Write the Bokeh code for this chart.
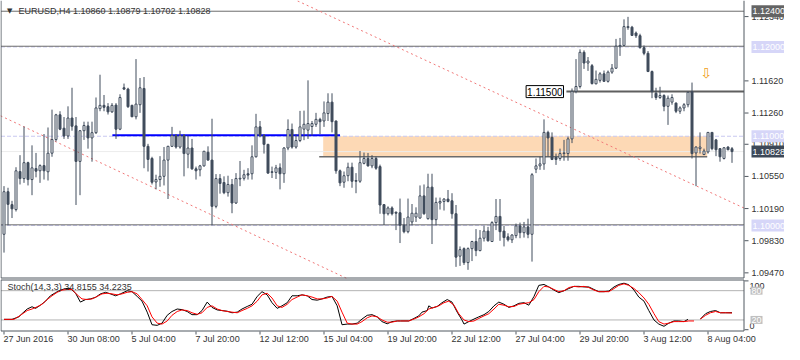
import math
from bokeh.plotting import figure
from bokeh.models import Range1d, Label, ColumnDataSource
from bokeh.core.properties import value
from bokeh.embed import file_html
from bokeh.resources import INLINE

# ---------------- data (EURUSD H4 candles) ----------------
opens = [1.09902, 1.10379, 1.10234, 1.10179, 1.10605, 1.10526, 1.10704, 1.10515, 1.10638, 1.10613,
         1.10671, 1.10602, 1.10810, 1.10963, 1.11240, 1.11090, 1.11003, 1.11204, 1.11116, 1.10718,
         1.11062, 1.11116, 1.10981, 1.11040, 1.11309, 1.11346, 1.11331, 1.11273, 1.11349, 1.11079,
         1.11543, 1.11528, 1.11346, 1.11218, 1.11353, 1.11535, 1.10887, 1.10751, 1.10488, 1.10515,
         1.10551, 1.10733, 1.10887, 1.11007, 1.10879, 1.11007, 1.10799, 1.10868, 1.10635, 1.10624,
         1.10668, 1.10821, 1.10733, 1.10215, 1.10526, 1.10482, 1.10368, 1.10460, 1.10252, 1.10521,
         1.10529, 1.10580, 1.10580, 1.10770, 1.11105, 1.11007, 1.10909, 1.10602, 1.10595, 1.10646,
         1.10580, 1.10868, 1.11076, 1.10879, 1.10952, 1.11079, 1.11068, 1.11109, 1.11134, 1.11189,
         1.11171, 1.11254, 1.11382, 1.11171, 1.10613, 1.10485, 1.10558, 1.10653, 1.10504, 1.10496,
         1.10696, 1.10751, 1.10668, 1.10751, 1.10660, 1.10234, 1.10132, 1.10197, 1.10149, 1.10143,
         1.10004, 1.09931, 1.10040, 1.10095, 1.10084, 1.10332, 1.10077, 1.10430, 1.10066, 1.10252,
         1.10270, 1.10296, 1.10277, 1.10132, 1.09657, 1.09741, 1.09585, 1.09741, 1.09821, 1.09719,
         1.09858, 1.09938, 1.09821, 1.10033, 1.10102, 1.09938, 1.09873, 1.09840, 1.09887, 1.09996,
         1.09920, 1.09985, 1.09902, 1.10631, 1.10668, 1.10690, 1.11043, 1.10988, 1.10762, 1.10751,
         1.10806, 1.10806, 1.10970, 1.11503, 1.11557, 1.11940, 1.11820, 1.11790, 1.11587, 1.11626,
         1.11699, 1.11615, 1.11718, 1.11762, 1.12003, 1.12017, 1.12217, 1.12221, 1.12156, 1.12126,
         1.11992, 1.11929, 1.11725, 1.11481, 1.11434, 1.11456, 1.11335, 1.11382, 1.11371, 1.11280,
         1.11317, 1.11353, 1.11499, 1.10813, 1.10861, 1.10795, 1.10824, 1.11043, 1.10959, 1.10861,
         1.10751, 1.10879, 1.10860]
highs = [1.10441, 1.10423, 1.10277, 1.10653, 1.10788, 1.11109, 1.10715, 1.10898, 1.10813, 1.10685,
         1.11025, 1.11098, 1.11298, 1.11251, 1.11280, 1.11215, 1.11335, 1.11543, 1.11215, 1.11068,
         1.11163, 1.11163, 1.11163, 1.11434, 1.11689, 1.11462, 1.11371, 1.11371, 1.11371, 1.11470,
         1.11590, 1.11543, 1.11353, 1.11864, 1.11652, 1.11663, 1.10915, 1.10770, 1.10569, 1.10777,
         1.10879, 1.10893, 1.11105, 1.11025, 1.11062, 1.11025, 1.11007, 1.10970, 1.10660, 1.10679,
         1.10835, 1.10887, 1.11196, 1.10576, 1.10576, 1.10551, 1.10558, 1.10521, 1.10587, 1.10723,
         1.10624, 1.10642, 1.10898, 1.11251, 1.11171, 1.11025, 1.10915, 1.10660, 1.10679, 1.10696,
         1.10879, 1.11189, 1.11142, 1.11025, 1.11284, 1.11287, 1.11626, 1.11171, 1.11262, 1.11207,
         1.11390, 1.11481, 1.11481, 1.11174, 1.10627, 1.10605, 1.10704, 1.10704, 1.10587, 1.10835,
         1.10817, 1.10813, 1.10788, 1.10770, 1.10682, 1.10241, 1.10215, 1.10215, 1.10157, 1.10302,
         1.10084, 1.10302, 1.10241, 1.10204, 1.10449, 1.10460, 1.10580, 1.10580, 1.10313, 1.10313,
         1.10307, 1.10398, 1.10362, 1.10230, 1.09766, 1.09755, 1.09755, 1.09829, 1.09960, 1.09949,
         1.09996, 1.09985, 1.10048, 1.10297, 1.10297, 1.09996, 1.09913, 1.09902, 1.10022, 1.10033,
         1.10040, 1.10077, 1.10587, 1.10751, 1.10770, 1.11189, 1.11062, 1.11043, 1.10806, 1.10861,
         1.10959, 1.10996, 1.11535, 1.11864, 1.11973, 1.11962, 1.11887, 1.11809, 1.11736, 1.11718,
         1.11736, 1.11736, 1.11809, 1.12090, 1.12101, 1.12309, 1.12337, 1.12236, 1.12173, 1.12148,
         1.12017, 1.11954, 1.11736, 1.11543, 1.11554, 1.11470, 1.11456, 1.11470, 1.11379, 1.11335,
         1.11371, 1.11499, 1.11601, 1.10887, 1.11043, 1.10861, 1.11043, 1.11043, 1.10970, 1.10868,
         1.10879, 1.10887, 1.10879]
lows = [1.09697, 1.10004, 1.10084, 1.10157, 1.10460, 1.10478, 1.10449, 1.10340, 1.10540, 1.10478,
        1.10515, 1.10504, 1.10770, 1.10941, 1.11068, 1.10970, 1.10970, 1.11062, 1.10230, 1.10340,
        1.10959, 1.10861, 1.10715, 1.11025, 1.11280, 1.11280, 1.11243, 1.11262, 1.10970, 1.11068,
        1.11517, 1.11317, 1.11215, 1.11189, 1.11262, 1.10642, 1.10605, 1.10460, 1.10405, 1.10434,
        1.10449, 1.10297, 1.10879, 1.10861, 1.10861, 1.10551, 1.10642, 1.10624, 1.10515, 1.10551,
        1.10660, 1.10726, 1.10004, 1.10193, 1.10357, 1.10351, 1.10324, 1.10138, 1.10241, 1.10441,
        1.10504, 1.10515, 1.10515, 1.10762, 1.10988, 1.10806, 1.10580, 1.10532, 1.10521, 1.10405,
        1.10478, 1.10843, 1.10861, 1.10861, 1.10934, 1.10956, 1.10970, 1.11007, 1.11105, 1.11025,
        1.11105, 1.11171, 1.11043, 1.10580, 1.10441, 1.10423, 1.10496, 1.10423, 1.10362, 1.10478,
        1.10685, 1.10660, 1.10642, 1.10624, 1.10132, 1.10004, 1.10113, 1.10113, 1.09949, 1.09804,
        1.09913, 1.09913, 1.10004, 1.10040, 1.10077, 1.10121, 1.10066, 1.09793, 1.10004, 1.10179,
        1.10168, 1.10259, 1.10077, 1.09537, 1.09548, 1.09559, 1.09504, 1.09602, 1.09657, 1.09712,
        1.09821, 1.09821, 1.09815, 1.09949, 1.09829, 1.09766, 1.09821, 1.09804, 1.09858, 1.09858,
        1.09865, 1.09858, 1.09596, 1.10587, 1.10624, 1.10624, 1.10770, 1.10733, 1.10679, 1.10726,
        1.10726, 1.10726, 1.10923, 1.11481, 1.11535, 1.11754, 1.11732, 1.11579, 1.11582, 1.11601,
        1.11609, 1.11601, 1.11699, 1.11754, 1.11900, 1.12009, 1.12192, 1.12126, 1.12101, 1.11981,
        1.11907, 1.11718, 1.11426, 1.11407, 1.11418, 1.11280, 1.11127, 1.11353, 1.11259, 1.11251,
        1.11280, 1.11324, 1.10751, 1.10441, 1.10806, 1.10788, 1.10806, 1.10843, 1.10777, 1.10715,
        1.10740, 1.10843, 1.10702]
closes = [1.10379, 1.10237, 1.10187, 1.10613, 1.10526, 1.10704, 1.10515, 1.10646, 1.10609, 1.10671,
          1.10613, 1.10810, 1.10963, 1.11240, 1.11079, 1.11003, 1.11204, 1.11112, 1.10718, 1.11062,
          1.11120, 1.10981, 1.11040, 1.11317, 1.11346, 1.11324, 1.11273, 1.11346, 1.11079, 1.11434,
          1.11528, 1.11331, 1.11218, 1.11360, 1.11543, 1.10887, 1.10740, 1.10485, 1.10515, 1.10551,
          1.10733, 1.10887, 1.11007, 1.10879, 1.11007, 1.10806, 1.10868, 1.10635, 1.10613, 1.10668,
          1.10832, 1.10733, 1.10215, 1.10526, 1.10471, 1.10368, 1.10460, 1.10252, 1.10526, 1.10529,
          1.10569, 1.10565, 1.10770, 1.11105, 1.11007, 1.10909, 1.10587, 1.10595, 1.10646, 1.10580,
          1.10868, 1.11076, 1.10879, 1.10952, 1.11105, 1.11134, 1.11142, 1.11142, 1.11189, 1.11163,
          1.11262, 1.11382, 1.11163, 1.10613, 1.10478, 1.10558, 1.10653, 1.10496, 1.10496, 1.10704,
          1.10751, 1.10668, 1.10751, 1.10642, 1.10230, 1.10132, 1.10197, 1.10132, 1.10138, 1.10004,
          1.09931, 1.10095, 1.10138, 1.10138, 1.10332, 1.10132, 1.10430, 1.10066, 1.10259, 1.10270,
          1.10296, 1.10270, 1.10132, 1.09646, 1.09730, 1.09585, 1.09741, 1.09821, 1.09719, 1.09858,
          1.09938, 1.09829, 1.10033, 1.10102, 1.09931, 1.09865, 1.09840, 1.09894, 1.09996, 1.09920,
          1.09985, 1.09902, 1.10569, 1.10668, 1.10690, 1.11043, 1.10981, 1.10740, 1.10740, 1.10806,
          1.10813, 1.10970, 1.11503, 1.11557, 1.11940, 1.11820, 1.11842, 1.11590, 1.11637, 1.11699,
          1.11615, 1.11718, 1.11762, 1.12009, 1.12017, 1.12228, 1.12228, 1.12129, 1.12126, 1.11992,
          1.11929, 1.11725, 1.11499, 1.11434, 1.11456, 1.11335, 1.11426, 1.11434, 1.11280, 1.11317,
          1.11353, 1.11492, 1.10806, 1.10879, 1.10879, 1.10835, 1.11043, 1.10861, 1.10849, 1.10770,
          1.10871, 1.10849, 1.10828]

x_tick_idx = [0, 16, 32, 48, 64, 80, 96, 112, 128, 144, 160, 176]
x_tick_labels = ["27 Jun 2016", "30 Jun 08:00", "5 Jul 04:00", "7 Jul 20:00", "12 Jul 12:00",
                 "15 Jul 04:00", "19 Jul 20:00", "22 Jul 12:00", "27 Jul 04:00", "29 Jul 20:00",
                 "3 Aug 12:00", "8 Aug 04:00"]
price_ticks = [1.0947, 1.0983, 1.1019, 1.1055, 1.1091, 1.1126, 1.1162, 1.1234]

# Stochastic(14,3,3): (bar index, value); None marks a break in the line
stoch_main = [(0, 21.2), (2.0, 21.2), (3.7, 26.3), (4.5, 32.8), (5.8, 42.4), (7.0, 47.0), (7.9, 43.7),
    (9.1, 50.2), (10.4, 58.5), (11.6, 69.5), (12.9, 76.0), (14.1, 81.1), (15.4, 84.3), (16.6, 84.3),
    (17.9, 74.7), (19.1, 56.6), (20.4, 61.8), (21.6, 63.1), (22.9, 66.3), (24.1, 73.4), (25.4, 76.6),
    (26.6, 73.4), (27.9, 69.5), (29.1, 73.4), (30.8, 79.8), (32.0, 77.9), (33.3, 68.2), (34.5, 58.5),
    (35.8, 36.0), (37.0, 10.2), (38.3, 8.9), (39.5, 13.4), (40.8, 29.5), (42.0, 37.3), (43.3, 42.4),
    (44.5, 41.1), (45.8, 37.3), (47.0, 30.8), (48.3, 30.8), (49.5, 39.2), (50.8, 56.6), (52.0, 45.7),
    (53.3, 40.5), (54.5, 39.2), (55.8, 37.9), (57.0, 34.7), (58.3, 36.0), (59.5, 42.4), (60.8, 47.6),
    (62.0, 52.1), (63.3, 68.2), (64.5, 77.9), (65.8, 71.4), (67.0, 55.3), (68.3, 43.7), (69.5, 48.9),
    (70.8, 55.3), (72.0, 69.5), (73.3, 69.5), (74.5, 71.4), (75.8, 69.5), (77.0, 61.8), (78.3, 60.5),
    (79.5, 63.1), (80.8, 66.9), (82.0, 68.2), (83.3, 48.9), (84.5, 10.2), (85.8, 11.5), (87.0, 11.5),
    (88.3, 13.4), (89.5, 21.8), (90.8, 29.5), (92.0, 30.8), (93.3, 26.3), (94.5, 16.6), (95.8, 12.1),
    (97.0, 16.6), (98.3, 17.9), (99.1, 17.9), (101.2, 17.9), (102.5, 23.1), (103.7, 28.3), (104.5, 36.0),
    (105.8, 39.2), (106.2, 48.9), (107.0, 44.4), (108.3, 47.6), (109.5, 55.3), (110.8, 61.8), (112.0, 56.6),
    (113.3, 36.0), (114.5, 19.9), (115.0, 11.5), (116.2, 16.6), (117.5, 21.8), (118.7, 26.3), (120.0, 30.8),
    (121.2, 37.3), (122.5, 48.9), (123.7, 56.6), (125.0, 52.1), (126.2, 45.7), (127.5, 48.9), (128.7, 54.0),
    (130.0, 55.3), (131.2, 50.2), (132.5, 68.2), (133.7, 90.8), (135.0, 92.7), (136.2, 87.6), (137.5, 81.1),
    (138.7, 76.0), (140.0, 79.8), (141.2, 84.3), (142.5, 88.8), (143.7, 88.8), (145.0, 87.6), (146.2, 87.6),
    (147.5, 82.4), (148.7, 77.9), (150.0, 77.9), (151.2, 79.2), (152.5, 87.6), (153.7, 92.7), (155.0, 95.3),
    (156.2, 92.1), (157.5, 81.1), (158.7, 66.9), (160.0, 58.5), (161.2, 39.2), (162.5, 19.9), (163.7, 11.5),
    (165.0, 7.0), (166.2, 13.4), (167.5, 17.9), (168.7, 17.9), (170.0, 16.6), (171.0, 21.2), None,
    (174.1, 21.8), (175.4, 32.8), (176.6, 37.3), (177.9, 39.2), (179.1, 34.7), (180.4, 34.7), (182.0, 34.8)]
stoch_signal = [(0, 21.2), (2.5, 21.2), (4.1, 29.5), (5.8, 39.2), (7.0, 42.4), (8.3, 47.0), (9.5, 52.1),
    (10.8, 61.8), (12.0, 69.5), (13.3, 76.6), (14.5, 81.1), (15.8, 82.4), (17.0, 82.4), (18.3, 71.4),
    (19.5, 63.1), (20.8, 61.8), (22.0, 63.1), (23.3, 68.2), (24.5, 73.4), (25.8, 74.7), (27.0, 73.4),
    (28.3, 71.4), (29.5, 73.4), (30.8, 76.6), (32.0, 77.9), (33.3, 73.4), (34.5, 61.8), (35.8, 48.9),
    (37.0, 26.3), (38.3, 13.4), (39.5, 11.5), (40.8, 17.9), (42.0, 29.5), (43.3, 37.3), (44.5, 40.5),
    (45.8, 39.2), (47.0, 34.7), (48.3, 31.5), (49.5, 34.7), (50.8, 45.7), (52.0, 48.9), (53.3, 42.4),
    (54.5, 39.2), (55.8, 37.3), (57.0, 36.0), (58.3, 34.7), (59.5, 39.2), (60.8, 43.7), (62.0, 48.9),
    (63.3, 58.5), (64.5, 71.4), (65.8, 74.7), (67.0, 65.0), (68.3, 48.9), (69.5, 45.7), (70.8, 52.1),
    (72.0, 61.8), (73.3, 66.9), (74.5, 71.4), (75.8, 69.5), (77.0, 66.9), (78.3, 63.1), (79.5, 63.1),
    (80.8, 65.0), (82.0, 68.2), (83.3, 58.5), (84.5, 36.0), (85.8, 13.4), (87.0, 11.5), (88.3, 11.5),
    (89.5, 16.6), (90.8, 24.4), (92.0, 28.3), (93.3, 26.3), (94.5, 19.9), (95.8, 15.4), (97.0, 15.4),
    (98.3, 17.9), (99.1, 17.9), (101.2, 17.9), (102.5, 21.8), (103.7, 26.3), (105.0, 32.8), (106.2, 42.4),
    (107.5, 45.7), (108.7, 48.9), (110.0, 55.3), (111.2, 58.5), (112.5, 50.2), (113.7, 32.8), (115.0, 19.9),
    (116.2, 16.6), (117.5, 17.9), (118.7, 23.1), (120.0, 28.3), (121.2, 32.8), (122.5, 42.4), (123.7, 52.1),
    (125.0, 50.2), (126.2, 47.0), (127.5, 47.6), (128.7, 52.1), (130.0, 54.0), (131.2, 55.3), (132.5, 61.8),
    (133.7, 77.9), (135.0, 88.8), (136.2, 87.6), (137.5, 82.4), (138.7, 77.9), (140.0, 79.8), (141.2, 86.3),
    (142.5, 88.8), (143.7, 87.6), (145.0, 88.8), (146.2, 86.3), (147.5, 81.1), (148.7, 77.9), (150.0, 77.9),
    (151.2, 77.9), (152.5, 84.3), (153.7, 90.8), (155.0, 94.0), (156.2, 90.8), (157.5, 84.3), (158.7, 76.0),
    (160.0, 65.0), (161.2, 52.1), (162.5, 32.8), (163.7, 16.6), (165.0, 11.5), (166.2, 13.4), (167.5, 16.6),
    (168.7, 16.6), (170.0, 16.6), (171.2, 17.9), (172.5, 17.9), None, (174.1, 21.8), (175.4, 29.5),
    (176.6, 34.7), (177.9, 37.3), (179.1, 34.7), (180.4, 34.7), (182.0, 34.2)]
stoch_levels = [80, 20]
stoch_scale_marks = [100, 0]

# chart objects (prices / bar indices)
user_levels = [1.12400, 1.12008, 1.10008]        # grey horizontal lines
alert_levels = [1.12000, 1.11000, 1.10000]       # lavender dashed lines
bid_price = 1.10828
zone = dict(left=79.8, right=175.8, top=1.11000, bottom=1.10770)
support = dict(x0=78.8, x1=175.8, price=1.10770)
resistance = dict(x0=140.6, price=1.11500)
blue_level = dict(x0=27.1, x1=84.0, price=1.11010)
trend_upper = dict(x=[70, 190], y=[1.12586, 1.10092])
trend_lower = dict(x=[-2, 85.6], y=[1.11253, 1.09410])
arrow_pos = dict(x=175.5, y=1.11710)
price_tags = [("1.12400", 1.12400, "#646464"), ("1.12000", 1.12000, "#d6d6f8"),
              ("1.11000", 1.11000, "#d6d6f8"), ("1.10828", 1.10828, "#3d4858"),
              ("1.10000", 1.10000, "#d6d6f8")]

# ---------------- layout (canvas pixels) ----------------
W, H = 784, 344
PANEL_R = 744            # right edge of the chart panels
MAIN_T, MAIN_B = 1, 277  # main panel top / bottom
PRICE_TOP, PRICE_PANEL_BOTTOM = 1.12509, 1.09418
ppu = (MAIN_B - MAIN_T) / (PRICE_TOP - PRICE_PANEL_BOTTOM)
y_top = PRICE_TOP + MAIN_T / ppu
y_bot = y_top - H / ppu
ST_T, ST_B = 279, 330    # stochastic panel top / bottom
S100_Y, S0_Y = 280.4, 329.2
s_ppu = (S0_Y - S100_Y) / 100.0
s_top = 100 + S100_Y / s_ppu
s_bot = -(H - S0_Y) / s_ppu
PX = 4.0
x_start = -3.5 / PX
x_end = x_start + W / PX

def cx(px):   # canvas x -> bar index
    return x_start + px / PX

def cy(py):   # canvas y -> price
    return y_top - py / ppu

def sy(py):   # canvas y -> stochastic value
    return s_top - py * 1.0 / s_ppu

BODY = "#404c5c"
BORDER = "#505860"
GREY = "#6c6c6c"
FONT = "Liberation Sans"
TXT = "#333333"

p = figure(width=W, height=H, title=None,
           x_range=Range1d(x_start, x_end), y_range=Range1d(y_bot, y_top),
           x_axis_location=None, y_axis_location=None, toolbar_location=None,
           output_backend="svg", min_border=0,
           outline_line_color=None, background_fill_color="white", border_fill_color="white")
p.extra_y_ranges = {"stoch": Range1d(s_bot, s_top)}
p.grid.visible = False

xr = cx(PANEL_R - 0.5)
xl = cx(0.5)

# zone rectangle
p.quad(left=[zone["left"]], right=[zone["right"]], top=[zone["top"]], bottom=[zone["bottom"]],
       fill_color="#fdd9b5", line_color=None)
# bid line
p.segment(x0=[xl], x1=[xr], y0=[bid_price], y1=[bid_price], line_color="#ececec", line_width=1)
# alert (dashed) lines
p.segment(x0=[xl] * 3, x1=[xr] * 3, y0=alert_levels, y1=alert_levels,
          line_color="#c8c8f0", line_width=1, line_dash="4 2")
# user horizontal lines
p.segment(x0=[xl] * 3, x1=[xr] * 3, y0=user_levels, y1=user_levels, line_color=GREY, line_width=1)
p.segment(x0=[support["x0"]], x1=[support["x1"]], y0=[support["price"]], y1=[support["price"]],
          line_color=GREY, line_width=1.5)
p.segment(x0=[resistance["x0"]], x1=[xr], y0=[resistance["price"]], y1=[resistance["price"]],
          line_color="#5f5f5f", line_width=2)
p.segment(x0=[blue_level["x0"]], x1=[blue_level["x1"]], y0=[blue_level["price"]], y1=[blue_level["price"]],
          line_color="#0000ff", line_width=2)
# trend channel (upper line clipped at the panel edge)
up_x1 = xr
up_y1 = trend_upper["y"][0] + (trend_upper["y"][1] - trend_upper["y"][0]) * (up_x1 - trend_upper["x"][0]) / (trend_upper["x"][1] - trend_upper["x"][0])
p.line([trend_upper["x"][0], up_x1], [trend_upper["y"][0], up_y1], line_color="#f07878", line_width=1, line_dash="2 3")
p.line(trend_lower["x"], trend_lower["y"], line_color="#f07878", line_width=1, line_dash="2 3")

# candles
idx = list(range(len(opens)))
tops = [max(o, c) for o, c in zip(opens, closes)]
bots = [min(o, c) for o, c in zip(opens, closes)]
fills = ["white" if c >= o else BODY for o, c in zip(opens, closes)]
p.segment(x0=idx, x1=idx, y0=lows, y1=highs, line_color=BODY, line_width=1)
p.vbar(x=idx, width=0.5, top=tops, bottom=bots, fill_color=fills, line_color=BODY, line_width=1)

# stochastic panel
def split(pts):
    xs = [q[0] if q is not None else float("nan") for q in pts]
    ys = [q[1] if q is not None else float("nan") for q in pts]
    return xs, ys

p.segment(x0=[xl] * 2, x1=[xr] * 2, y0=stoch_levels, y1=stoch_levels,
          line_color="#b4b4b4", line_width=1, y_range_name="stoch")
kx, ky = split(stoch_main)
dx, dy = split(stoch_signal)
p.line(kx, ky, line_color="black", line_width=1, y_range_name="stoch")
p.line(dx, dy, line_color="#ff0000", line_width=1, y_range_name="stoch")

# panel borders
mb = cy(MAIN_B + 0.5)
p.segment(x0=[xl, xr, xl], x1=[xl, xr, xr], y0=[y_top, y_top, mb], y1=[mb, mb, mb],
          line_color=BORDER, line_width=1)
st, sb = sy(ST_T + 0.5), sy(ST_B + 0.5)
p.segment(x0=[xl, xr, xl, xl], x1=[xl, xr, xr, xr], y0=[st, st, st, sb], y1=[sb, sb, st, sb],
          line_color=BORDER, line_width=1, y_range_name="stoch")

# price scale: ticks and labels
p.segment(x0=[cx(PANEL_R)] * len(price_ticks), x1=[cx(PANEL_R + 4)] * len(price_ticks),
          y0=price_ticks, y1=price_ticks, line_color=BORDER, line_width=1)
p.text(x=[cx(PANEL_R + 7)] * len(price_ticks), y=price_ticks, text=["%.5f" % t for t in price_ticks],
       text_font=value(FONT), text_font_size="9px", text_color=TXT, text_align="left", text_baseline="middle")
for txt, pr, bg in price_tags:
    p.add_layout(Label(x=cx(PANEL_R + 7), y=pr, text=txt, text_font=FONT, text_font_size="9px",
                       text_color="white", text_align="left", text_baseline="middle",
                       background_fill_color=bg, padding=(1, 3)))

# stochastic scale
p.segment(x0=[cx(PANEL_R)] * 2, x1=[cx(PANEL_R + 4)] * 2, y0=stoch_scale_marks, y1=stoch_scale_marks,
          line_color=BORDER, line_width=1, y_range_name="stoch")
p.text(x=[cx(PANEL_R + 5)] * 2, y=[sy(ST_T + 6), sy(ST_B - 5)], text=[str(v) for v in stoch_scale_marks],
       text_font=value(FONT), text_font_size="9px", text_color=TXT, text_align="left",
       text_baseline="middle", y_range_name="stoch")
for lv in stoch_levels:
    p.add_layout(Label(x=cx(PANEL_R + 6), y=lv, y_range_name="stoch", text=str(lv), text_font=FONT,
                       text_font_size="9px", text_color="white", text_baseline="middle",
                       background_fill_color="#c0c0c0", padding=(1, 1)))

# time scale
p.segment(x0=x_tick_idx, x1=x_tick_idx, y0=[sy(ST_B + 1)] * len(x_tick_idx), y1=[sy(ST_B + 4)] * len(x_tick_idx),
          line_color=BORDER, line_width=1, y_range_name="stoch")
p.text(x=[t - 0.1 for t in x_tick_idx], y=[sy(ST_B + 3)] * len(x_tick_idx), text=x_tick_labels,
       text_font=value(FONT), text_font_size="9px", text_color=TXT, text_align="left",
       text_baseline="top", y_range_name="stoch")

# titles and chart texts
p.add_layout(Label(x=1.4, y=user_levels[0], text="\u25bc", text_font="DejaVu Sans", text_font_size="7px",
                   text_color=TXT, text_align="center", text_baseline="middle"))
p.add_layout(Label(x=3.6, y=user_levels[0], text="EURUSD,H4  1.10860 1.10879 1.10702 1.10828",
                   text_font=FONT, text_font_size="9px", text_color=TXT, text_baseline="middle"))
p.add_layout(Label(x=0.9, y=sy(ST_T + 7), y_range_name="stoch", text="Stoch(14,3,3) 34.8155 34.2235",
                   text_font=FONT, text_font_size="9px", text_color=TXT, text_baseline="middle"))
p.add_layout(Label(x=135.2, y=resistance["price"], text="1.11500", text_font=FONT, text_font_size="10px",
                   text_color="black", text_align="center", text_baseline="middle",
                   background_fill_color="white", border_line_color="black", border_line_width=1,
                   padding=(1, 2)))
p.add_layout(Label(x=arrow_pos["x"], y=arrow_pos["y"], text="\u21e9", text_font="DejaVu Sans",
                   text_font_size="14px", text_color="#f0a020", text_align="center", text_baseline="middle"))

open("out.html", "w").write(file_html(p, INLINE))
